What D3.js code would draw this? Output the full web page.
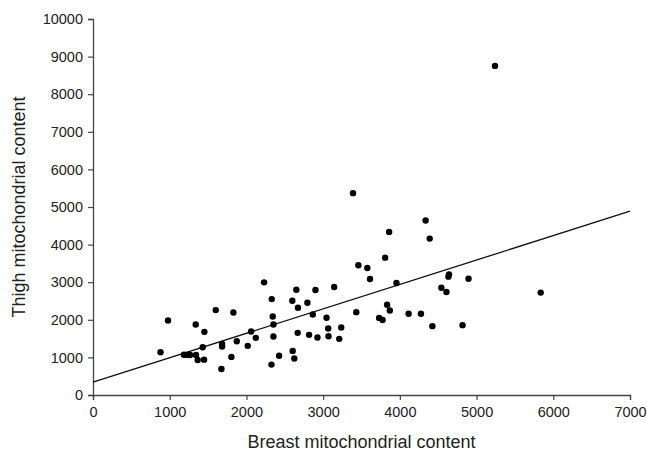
<!DOCTYPE html>
<html>
<head>
<meta charset="utf-8">
<script src="https://cdn.jsdelivr.net/npm/d3@7"></script>
<style>
    body { margin: 0; background: #fff; }
    svg text { font-family: "Liberation Sans", Arial, sans-serif; fill: #222; }
</style>
</head>
<body>
<div id="chart"></div>
<script>
// breast (x) vs thigh (y) mitochondrial content
var breast = [
    880, 978, 1186, 1221, 1265, 1339, 1343, 1365, 1430, 1452, 1448, 1600,
    1674, 1683, 1683, 1804, 1830, 1874, 2017, 2061, 2122, 2230, 2330, 2343,
    2352, 2352, 2326, 2426, 2603, 2624, 2598, 2651, 2672, 2668, 2795, 2817,
    2865, 2900, 2926, 3044, 3066, 3070, 3144, 3210, 3236, 3389, 3432, 3459,
    3576, 3611, 3730, 3775, 3808, 3834, 3860, 3869, 3956, 4114, 4275, 4336,
    4389, 4424, 4541, 4607, 4633, 4641, 4817, 4895, 5240, 5836
];
var thigh = [
    1138, 1982, 1072, 1068, 1065, 1876, 1067, 930, 1271, 1680, 940, 2258,
    693, 1360, 1289, 1013, 2196, 1431, 1307, 1689, 1520, 2996, 2551, 2089,
    1876, 1556, 809, 1045, 1173, 969, 2507, 2800, 2320, 1653, 2453, 1600,
    2142, 2791, 1529, 2053, 1769, 1564, 2871, 1493, 1796, 5369, 2204, 3449,
    3378, 3084, 2050, 1995, 3653, 2400, 4338, 2249, 2978, 2160, 2160, 4640,
    4160, 1831, 2853, 2738, 3147, 3209, 1858, 3090, 8753, 2724
];
// fitted line end points
var fitX = [0, 7000];
var fitY = [340, 4890];
var xTicks = [0, 1000, 2000, 3000, 4000, 5000, 6000, 7000];
var yTicks = [0, 1000, 2000, 3000, 4000, 5000, 6000, 7000, 8000, 9000, 10000];

var width = 647,
    height = 456,
    margin = { top: 19, right: 17, bottom: 61, left: 93 },
    innerW = width - margin.left - margin.right,
    innerH = height - margin.top - margin.bottom;

var svg = d3.select("#chart")
    .append("svg")
    .attr("width", width)
    .attr("height", height);

var g = svg.append("g")
    .attr("transform", "translate(" + margin.left + "," + margin.top + ")");

var x = d3.scaleLinear().domain([0, 7000]).range([0, innerW]);
var y = d3.scaleLinear().domain([0, 10000]).range([innerH, 0]);

var xAxis = d3.axisBottom(x).tickValues(xTicks).tickSize(5).tickPadding(7).tickFormat(d3.format("d"));
var yAxis = d3.axisLeft(y).tickValues(yTicks).tickSize(5).tickPadding(5).tickFormat(d3.format("d"));

var gx = g.append("g")
    .attr("transform", "translate(0," + innerH + ")")
    .call(xAxis);
var gy = g.append("g").call(yAxis);

[gx, gy].forEach(function (a) {
    a.select(".domain").attr("stroke", "#444").attr("stroke-width", 1.3);
    a.selectAll(".tick line").attr("stroke", "#444").attr("stroke-width", 1.2);
    a.selectAll(".tick text")
        .attr("font-family", "Liberation Sans, Arial, sans-serif")
        .attr("font-size", 14.5)
        .attr("fill", "#222");
});

// regression line
g.append("line")
    .attr("x1", x(fitX[0]))
    .attr("y1", y(fitY[0]))
    .attr("x2", x(fitX[1]))
    .attr("y2", y(fitY[1]))
    .attr("stroke", "#111")
    .attr("stroke-width", 1.3);

g.selectAll(".dot")
    .data(d3.range(breast.length))
    .enter()
    .append("circle")
    .attr("class", "dot")
    .attr("cx", function (i) { return x(breast[i]); })
    .attr("cy", function (i) { return y(thigh[i]); })
    .attr("r", 3.2)
    .attr("fill", "#000");

svg.append("text")
    .attr("x", margin.left + innerW / 2)
    .attr("y", 448)
    .attr("text-anchor", "middle")
    .attr("font-size", 18)
    .text("Breast mitochondrial content");

svg.append("text")
    .attr("transform", "translate(25," + (margin.top + innerH / 2) + ") rotate(-90)")
    .attr("text-anchor", "middle")
    .attr("font-size", 18)
    .text("Thigh mitochondrial content");
</script>
</body>
</html>
